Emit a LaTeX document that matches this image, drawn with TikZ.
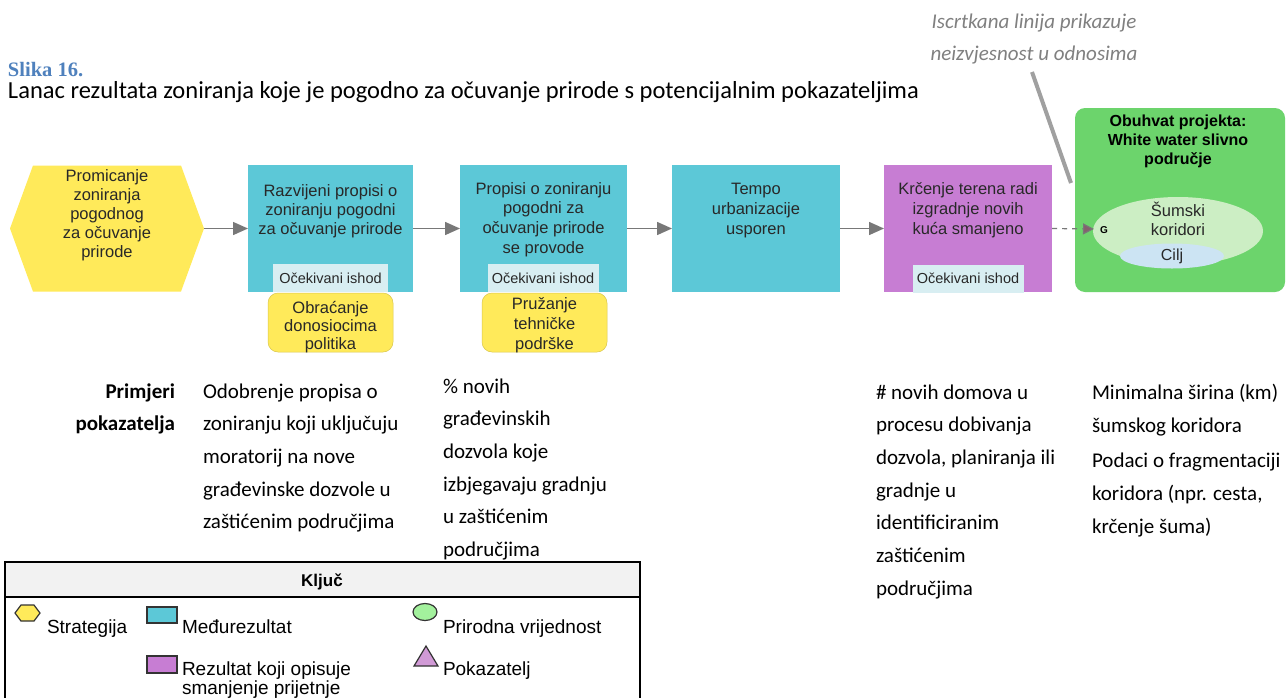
\documentclass[tikz,border=0pt]{standalone}
\usepackage{fontspec}
\setmainfont{Carlito}
\newfontfamily\arialf{Liberation Sans}
\newfontfamily\seriff{Liberation Serif}
\usetikzlibrary{arrows.meta,shapes.geometric,calc}
\definecolor{cyanbox}{RGB}{92,200,215}
\definecolor{purplebox}{RGB}{199,125,211}
\definecolor{greenbox}{RGB}{108,212,108}
\definecolor{yellowbox}{RGB}{255,234,90}
\definecolor{lightgreen}{RGB}{204,238,196}
\definecolor{lightblue}{RGB}{204,228,243}
\definecolor{labelbg}{RGB}{216,238,242}
\definecolor{arrowgray}{RGB}{120,120,120}
\definecolor{notegray}{RGB}{128,128,128}
\definecolor{linegray}{RGB}{160,160,160}
\definecolor{titleblue}{RGB}{79,129,189}
\definecolor{keygray}{RGB}{242,242,242}
\definecolor{textdark}{RGB}{40,40,40}
\newcommand{\txtlines}[6]{%
  \foreach \l [count=\i] in {#6}
    \node[#1] (#2-\i) at ({#3},{#4+#5*(\i-1)}) {\l};}
\begin{document}
\begin{tikzpicture}[x=1pt,y=-1pt,
  every node/.style={inner sep=0pt, outer sep=0pt},
  boxnode/.style={minimum height=127pt},
  dtext/.style={anchor=base, font=\arialf\fontsize{16.5}{18}\selectfont, text=textdark},
  gtext/.style={anchor=base, font=\arialf\bfseries\fontsize{16}{18}\selectfont, text=black},
  lbltext/.style={fill=labelbg, minimum width=111pt, minimum height=28pt, font=\arialf\fontsize{14.5}{16}\selectfont, text=textdark},
  ybox/.style={fill=yellowbox, draw=yellowbox!85!black, line width=0.5pt, rounded corners=10pt, minimum height=59pt},
  btext/.style={anchor=base west, font=\fontsize{21}{24}\selectfont},
  bhead/.style={anchor=base east, font=\bfseries\fontsize{21}{24}\selectfont},
  ktext/.style={anchor=base west, font=\arialf\fontsize{19}{20}\selectfont},
  arr/.style={draw=arrowgray, line width=1.5pt, -{Triangle[length=15pt,width=13pt]}},
  icon/.style={draw=black!80, line width=1.2pt}
  ]
\clip (0,0) rectangle (1286,697);
\fill[white] (0,0) rectangle (1286,697);

% titles
\node[anchor=base west, font=\seriff\bfseries\fontsize{20.5}{22}\selectfont, text=titleblue] (title) at (8,76) {Slika 16.};
\node[anchor=base west, font=\fontsize{24.5}{26}\selectfont] (subtitle) at (8,98) {Lanac rezultata zoniranja koje je pogodno za očuvanje prirode s potencijalnim pokazateljima};
\node[anchor=base, font=\itshape\fontsize{21}{24}\selectfont, text=notegray] (note1) at (1034,28) {Iscrtkana linija prikazuje};
\node[anchor=base, font=\itshape\fontsize{21}{24}\selectfont, text=notegray] (note2) at (1034,60) {neizvjesnost u odnosima};
\coordinate (ptrA) at (1032,72);
\coordinate (ptrB) at (1071,183);

% hexagon (strategy)
\node[minimum width=194pt, minimum height=126pt] (hex) at (107,228.5) {};
\fill[yellowbox] (hex.west) -- ([xshift=23pt]hex.north west) -- ([xshift=-23pt]hex.north east) -- (hex.east) -- ([xshift=-23pt]hex.south east) -- ([xshift=23pt]hex.south west) -- cycle;
\txtlines{dtext}{hext}{107}{181}{19}{Promicanje,zoniranja,pogodnog,za očuvanje,prirode}

% boxes
\node[boxnode, fill=cyanbox, minimum width=165pt] (b1) at (330.5,228.5) {};
\node[boxnode, fill=cyanbox, minimum width=167pt] (b2) at (543.5,228.5) {};
\node[boxnode, fill=cyanbox, minimum width=168pt] (b3) at (756,228.5) {};
\node[boxnode, fill=purplebox, minimum width=168pt] (b4) at (968,228.5) {};
\node[fill=greenbox, rounded corners=10pt, minimum width=210pt, minimum height=184pt] (gb) at (1180,200) {};

\txtlines{dtext}{b1t}{330.5}{196}{19}{Razvijeni propisi o,zoniranju pogodni,za očuvanje prirode}
\txtlines{dtext}{b2t}{543.5}{194}{19.7}{Propisi o zoniranju,pogodni za,očuvanje prirode,se provode}
\txtlines{dtext}{b3t}{756}{194}{20}{Tempo,urbanizacije,usporen}
\txtlines{dtext}{b4t}{968}{194}{20}{Krčenje terena radi,izgradnje novih,kuća smanjeno}

\node[lbltext, minimum width=115pt] (l1) at (330.5,278) {Očekivani ishod};
\node[lbltext] (l2) at (543,278) {Očekivani ishod};
\node[lbltext] (l4) at (968,278.5) {Očekivani ishod};

\node[ybox, minimum width=125pt] (y1) at (330.5,322.5) {};
\node[ybox, minimum width=125pt] (y2) at (544.5,322.5) {};
\txtlines{dtext}{y1t}{330.5}{313}{18}{Obraćanje,donosiocima,politika}
\txtlines{dtext}{y2t}{544.5}{309}{20}{Pružanje,tehničke,podrške}

% green scope box
\txtlines{gtext}{gbt}{1178}{126}{19}{Obuhvat projekta:,White water slivno,područje}
\node[ellipse, fill=lightgreen, minimum width=170pt, minimum height=68pt] (nv) at (1178,231) {};
\txtlines{dtext}{nvt}{1178}{216}{19}{Šumski,koridori}
\node[ellipse, fill=lightblue, minimum width=104pt, minimum height=25pt, font=\arialf\fontsize{16}{18}\selectfont, text=textdark] (cilj) at (1172,256) {Cilj};
\coordinate (gtip) at (1094,229);
\node[anchor=west, font=\arialf\bfseries\fontsize{10}{12}\selectfont] (glab) at (1100,230) {G};

% connectors
\draw[arr] (hex.east) -- (b1.west);
\draw[arr] (b1.east) -- (b2.west);
\draw[arr] (b2.east) -- (b3.west);
\draw[arr] (b3.east) -- (b4.west);
\draw[draw=arrowgray, line width=1.2pt, dash pattern=on 5pt off 5pt, -{Triangle[length=11pt,width=11pt,fill=arrowgray!80!purple]}] (b4.east) -- (gtip);
\draw[linegray, line width=4pt] (ptrA) -- (ptrB);

% indicators
\txtlines{bhead}{ph}{175}{398}{32.7}{Primjeri,pokazatelja}
\txtlines{btext}{c1}{203}{398}{32.7}{Odobrenje propisa o,zoniranju koji uključuju,moratorij na nove,građevinske dozvole u,zaštićenim područjima}
\txtlines{btext}{c2}{443}{393}{32.7}{\% novih,građevinskih,dozvola koje,izbjegavaju gradnju,u zaštićenim,područjima}
\txtlines{btext}{c3}{876}{399}{32.7}{\# novih domova u,procesu dobivanja,{dozvola, planiranja ili},gradnje u,identificiranim,zaštićenim,područjima}
\node[btext] (c4-1) at (1092,399) {Minimalna širina (km)};
\node[btext] (c4-2) at (1092,432) {šumskog koridora};
\node[btext] (c4-3) at (1092,467) {Podaci o fragmentaciji};
\node[btext] (c4-4) at (1092,500) {koridora (npr. cesta,};
\node[btext] (c4-5) at (1092,533) {krčenje šuma)};

% key
\fill[keygray] (5,562) rectangle (640,597);
\draw[line width=2pt] (5,562) rectangle (640,705);
\draw[line width=1.5pt] (5,597) -- (640,597);
\node[anchor=base, font=\arialf\bfseries\fontsize{17}{20}\selectfont] (key) at (322,586) {Ključ};
\filldraw[icon, fill=yellowbox] (15,613) -- (21,605) -- (34,605) -- (40,613) -- (34,621) -- (21,621) -- cycle;
\node[ktext] (k1) at (47,633) {Strategija};
\filldraw[icon, fill=cyanbox] (147,607) rectangle (177,623);
\node[ktext] (k2) at (182,633) {Međurezultat};
\filldraw[icon, fill=lightgreen!80!green] (425,612) ellipse (12pt and 8.5pt);
\node[ktext] (k3) at (443,633) {Prirodna vrijednost};
\filldraw[icon, fill=purplebox] (147,656) rectangle (177,673);
\node[ktext] (k4) at (182,675) {Rezultat koji opisuje};
\node[ktext] (k5) at (182,694) {smanjenje prijetnje};
\filldraw[icon, fill=purplebox!70!violet!60!white] (414,666) -- (426,646) -- (438,666) -- cycle;
\node[ktext] (k6) at (443,675) {Pokazatelj};
\end{tikzpicture}
\end{document}
